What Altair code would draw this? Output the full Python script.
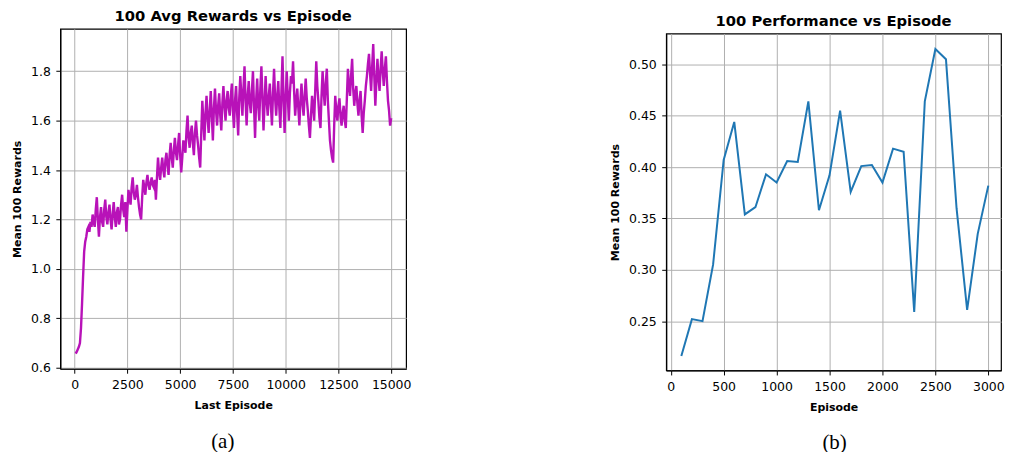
import altair as alt
import pandas as pd

# ---- panel (a): 100-episode average reward (every 50 episodes) ----
episodes_a = list(range(50, 15001, 50))
rewards_a = [
    0.657, 0.665, 0.675, 0.685, 0.70, 0.76, 0.86, 0.97, 1.07, 1.11,
    1.13, 1.16, 1.17, 1.15, 1.19, 1.17, 1.22, 1.19, 1.17, 1.24,
    1.29, 1.20, 1.13, 1.21, 1.25, 1.19, 1.17, 1.24, 1.28, 1.21,
    1.18, 1.23, 1.26, 1.20, 1.16, 1.22, 1.27, 1.21, 1.17, 1.23,
    1.25, 1.18, 1.20, 1.26, 1.30, 1.24, 1.21, 1.27, 1.15, 1.24,
    1.32, 1.29, 1.26, 1.33, 1.37, 1.31, 1.28, 1.30, 1.34, 1.29,
    1.25, 1.22, 1.20, 1.29, 1.36, 1.33, 1.30, 1.35, 1.38, 1.34,
    1.32, 1.35, 1.37, 1.34, 1.33, 1.36, 1.28, 1.37, 1.45, 1.39,
    1.36, 1.41, 1.45, 1.40, 1.37, 1.44, 1.47, 1.42, 1.38, 1.46,
    1.51, 1.45, 1.41, 1.48, 1.53, 1.47, 1.44, 1.50, 1.55, 1.46,
    1.39, 1.45, 1.52, 1.50, 1.47, 1.56, 1.62, 1.53, 1.49, 1.55,
    1.58, 1.51, 1.46, 1.55, 1.60, 1.54, 1.50, 1.45, 1.41, 1.55,
    1.68, 1.60, 1.52, 1.63, 1.70, 1.61, 1.55, 1.64, 1.72, 1.62,
    1.52, 1.65, 1.73, 1.64, 1.58, 1.66, 1.71, 1.62, 1.56, 1.67,
    1.74, 1.66, 1.60, 1.68, 1.72, 1.65, 1.62, 1.70, 1.75, 1.64,
    1.57, 1.68, 1.74, 1.63, 1.54, 1.69, 1.78, 1.70, 1.62, 1.73,
    1.82, 1.68, 1.58, 1.70, 1.76, 1.67, 1.63, 1.72, 1.80, 1.66,
    1.53, 1.68, 1.77, 1.66, 1.60, 1.73, 1.82, 1.69, 1.56, 1.67,
    1.78, 1.68, 1.62, 1.70, 1.75, 1.66, 1.58, 1.71, 1.81, 1.69,
    1.62, 1.70, 1.76, 1.65, 1.57, 1.72, 1.86, 1.68, 1.55, 1.69,
    1.80, 1.70, 1.60, 1.71, 1.78, 1.75, 1.84, 1.72, 1.62, 1.68,
    1.73, 1.65, 1.58, 1.68, 1.75, 1.67, 1.62, 1.70, 1.77, 1.69,
    1.64, 1.58, 1.53, 1.62, 1.70, 1.66, 1.60, 1.72, 1.84, 1.74,
    1.68, 1.61, 1.57, 1.70, 1.80, 1.72, 1.66, 1.75, 1.81, 1.68,
    1.60, 1.52, 1.48, 1.45, 1.43, 1.58, 1.70, 1.64, 1.60, 1.66,
    1.69, 1.62, 1.58, 1.63, 1.66, 1.60, 1.57, 1.69, 1.81, 1.74,
    1.70, 1.78, 1.85, 1.73, 1.66, 1.71, 1.74, 1.67, 1.62, 1.68,
    1.72, 1.62, 1.55, 1.63, 1.68, 1.74, 1.78, 1.83, 1.87, 1.79,
    1.72, 1.82, 1.91, 1.78, 1.66, 1.76, 1.85, 1.77, 1.72, 1.81,
    1.88, 1.80, 1.74, 1.81, 1.86, 1.76, 1.68, 1.64, 1.58, 1.61,
]
x_ticks_a = [0, 2500, 5000, 7500, 10000, 12500, 15000]
y_ticks_a = [0.6, 0.8, 1.0, 1.2, 1.4, 1.6, 1.8]

# ---- panel (b): performance every 100 episodes ----
episodes_b = list(range(100, 3001, 100))
perf_b = [
    0.216, 0.252, 0.250, 0.305, 0.407, 0.444, 0.354, 0.361, 0.393, 0.385,
    0.406, 0.405, 0.464, 0.358, 0.392, 0.455, 0.376, 0.401, 0.402, 0.385,
    0.418, 0.415, 0.259, 0.464, 0.515, 0.505, 0.360, 0.261, 0.335, 0.382,
]
x_ticks_b = [0, 500, 1000, 1500, 2000, 2500, 3000]
y_ticks_b = [0.25, 0.30, 0.35, 0.40, 0.45, 0.50]

df_a = pd.DataFrame({"episode": episodes_a, "reward": rewards_a})
df_b = pd.DataFrame({"episode": episodes_b, "perf": perf_b})

FONT = "DejaVu Sans"
CAP_FONT = "Liberation Serif"

line_a = alt.Chart(df_a).mark_line(color="#b812b8", strokeWidth=2.4).encode(
    x=alt.X("episode:Q",
            scale=alt.Scale(domain=[-680, 15708], nice=False, zero=False),
            axis=alt.Axis(values=x_ticks_a, format="d", title="Last Episode")),
    y=alt.Y("reward:Q",
            scale=alt.Scale(domain=[0.596, 1.971], nice=False, zero=False),
            axis=alt.Axis(values=y_ticks_a, format=".1f", title="Mean 100 Rewards")),
)
cap_a = alt.Chart(pd.DataFrame({"cap": ["(a)"]})).mark_text(
    font=CAP_FONT, fontSize=21, baseline="middle", color="black"
).encode(text="cap:N", x=alt.value(163), y=alt.value(415))
# invisible rule: extends panel (a) bounds downward so centring drops panel (b) a few px
spacer_a = alt.Chart(pd.DataFrame({"s": [0]})).mark_rule(opacity=0).encode(
    x=alt.value(150), x2=alt.value(151), y=alt.value(430), y2=alt.value(430)
)

panel_a = alt.layer(line_a, cap_a, spacer_a).properties(
    width=347, height=341,
    title=alt.TitleParams("100 Avg Rewards vs Episode", font=FONT, fontSize=14.8,
                          fontWeight="bold", color="black", offset=5),
)

line_b = alt.Chart(df_b).mark_line(color="#1f77b4", strokeWidth=2).encode(
    x=alt.X("episode:Q",
            scale=alt.Scale(domain=[-43, 3120], nice=False, zero=False),
            axis=alt.Axis(values=x_ticks_b, format="d", title="Episode")),
    y=alt.Y("perf:Q",
            scale=alt.Scale(domain=[0.202, 0.530], nice=False, zero=False),
            axis=alt.Axis(values=y_ticks_b, format=".2f", title="Mean 100 Rewards")),
)
cap_b = alt.Chart(pd.DataFrame({"cap": ["(b)"]})).mark_text(
    font=CAP_FONT, fontSize=21, baseline="middle", color="black"
).encode(text="cap:N", x=alt.value(169), y=alt.value(410.5))

panel_b = alt.layer(line_b, cap_b).properties(
    width=336, height=338,
    title=alt.TitleParams("100 Performance vs Episode", font=FONT, fontSize=14.8,
                          fontWeight="bold", color="black", offset=5),
)

chart = alt.hconcat(panel_a, panel_b, spacing=197, center=True, bounds="full").properties(
    padding={"left": 2.5, "top": -1, "right": 0, "bottom": 0},
    background="white",
).configure_view(
    stroke="black", strokeWidth=1.2
).configure_axis(
    labelFont=FONT, labelFontSize=12.5, labelColor="black",
    titleFont=FONT, titleFontSize=11, titleFontWeight="bold", titleColor="black",
    tickColor="black", tickSize=4.5, tickWidth=1, labelPadding=5.5, titlePadding=8.5,
    domainColor="black", domainWidth=1.2,
    gridColor="#b0b0b0", gridWidth=1, gridOpacity=1,
)

chart.save("out.html", embed_options={"renderer": "svg", "actions": False})
